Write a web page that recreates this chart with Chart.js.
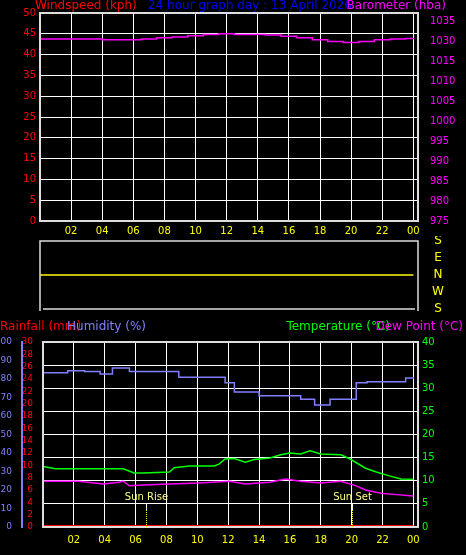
<!DOCTYPE html>
<html><head><meta charset="utf-8">
<script src="https://cdn.jsdelivr.net/npm/chart.js@4"></script>
<style>
html,body{margin:0;padding:0;background:#000;width:466px;height:555px;overflow:hidden;position:relative}
canvas{position:absolute;left:0px}
</style></head><body>
<canvas id="c1" style="top:0px;width:466px;height:240px" width="466" height="240"></canvas>
<canvas id="c2" style="top:236px;width:466px;height:82px" width="466" height="82"></canvas>
<canvas id="c3" style="top:320px;width:466px;height:235px" width="466" height="235"></canvas>
<script>
const baroHours = [0,1,3,4,5,6,6.5,7.5,8.5,9.5,10.5,11.5,12.5,13.5,14.5,15.5,16.5,17.5,18.5,19.5,20.5,21.5,22.5,23.5,24];
const baroValues = [1020.5,1020.5,1020.5,1020.3,1020.3,1020.3,1020.5,1020.8,1021.0,1021.3,1021.6,1021.8,1021.6,1021.6,1021.5,1021.2,1020.8,1020.3,1019.9,1019.6,1019.9,1020.3,1020.5,1020.6,1020.8];
const windHours = [0,24];
const windValues = [0,0];
const baroTickLabels = {975:'975',980:'980',985:'985',990:'990',995:'995',1000:'1000',1005:'1005',1010:'1010',1015:'1015',1020:'1030',1025:'1035'};
const hourTicks = [2,4,6,8,10,12,14,16,18,20,22,24];
const dirHours = [0,24];
const dirValues = [0,0];
const dirLabels = ['S','E','N','W','S'];
const humHours = [0,1.5,1.6,2.6,2.7,3.6,3.7,4.4,4.5,5.2,5.6,6.5,8.6,8.8,11.4,11.8,12.4,14,16.7,17.6,18.6,20.3,21,22.5,23.5,24];
const humValues = [83.4,83.4,84.5,84.5,84,84,82.7,82.7,86,86,84,84,84,81,81,78,73,71,69,66,69,78,78.5,78.5,80.5,81];
const tempHours = [0,0.8,5.2,5.9,6.5,8.2,8.5,9.5,11.1,11.4,11.8,12.4,13.1,13.7,14.7,15.4,16,16.7,17.3,18,19.3,19.9,20.9,21.6,22.5,23.2,24];
const tempValues = [13.1,12.6,12.6,11.7,11.7,11.9,12.8,13.2,13.2,13.6,14.7,14.8,14.0,14.6,14.9,15.6,16,15.8,16.5,15.8,15.6,14.7,12.7,11.9,11,10.4,10.3];
const dewHours = [0,2.3,2.9,3.9,4.9,5.2,5.6,6.5,8.2,10.1,12.1,13.1,14.7,15.7,16.7,18,19.3,20.3,20.9,21.9,22.9,24];
const dewValues = [9.9,9.9,9.7,9.3,9.7,9.9,8.9,9.1,9.3,9.5,9.9,9.3,9.7,10.4,9.9,9.5,9.9,8.9,8.0,7.3,7.0,6.7];
const rainHours = [0,24];
const rainValues = [0,0];
const sunEvents = [{h:6.7,t:'Sun Rise'},{h:20.0,t:'Sun Set'}];

Chart.defaults.animation=false;
Chart.defaults.font={family:'DejaVu Sans', size:10};
Chart.defaults.devicePixelRatio=1;
const pts = (xs,ys)=>xs.map((x,i)=>({x, y:ys[i]}));
const hourLabel = v => String(v%24).padStart(2,'0');
const dotGrid = {color:'#fff', borderDash:[1,3], lineWidth:1, drawTicks:false};
const fixW = w => s => { s.width = w; };
const fixH = h => s => { s.height = h; };
const hourAxis = h => ({type:'linear',min:0,max:24.3,afterFit:fixH(h),grid:dotGrid,border:{display:false},
  afterBuildTicks:s=>{s.ticks=hourTicks.map(v=>({value:v}));},
  ticks:{autoSkip:false,color:'#ffff00',callback:hourLabel,maxRotation:0,padding:h>20?7:4}});

function texts(items){
  return {id:'texts', afterDraw(c){const ctx=c.ctx; ctx.save(); ctx.font='12px "DejaVu Sans"'; ctx.textBaseline='middle';
    items.forEach(it=>{ctx.fillStyle=it.c; ctx.textAlign=it.a; ctx.fillText(it.t,it.x,it.y);}); ctx.restore();}};
}
function frame(){
  return {id:'frame', afterDatasetsDraw(c){const a=c.chartArea,ctx=c.ctx; ctx.save(); ctx.strokeStyle='#ddd'; ctx.lineWidth=2;
    ctx.strokeRect(a.left,a.top,a.right-a.left,a.bottom-a.top); ctx.restore();}};
}

new Chart(document.getElementById('c1'),{
  type:'line',
  data:{datasets:[
    {data:pts(baroHours,baroValues), yAxisID:'baro', borderColor:'#ff00ff', borderWidth:1.5, pointRadius:0, stepped:true},
    {data:pts(windHours,windValues), yAxisID:'wind', borderColor:'#ff0000', borderWidth:1.5, pointRadius:0}
  ]},
  options:{responsive:false, layout:{padding:{top:13,left:0,right:0,bottom:0}},
    plugins:{legend:{display:false},tooltip:{enabled:false}},
    scales:{
      x:hourAxis(19),
      wind:{position:'left',min:0,max:50,afterFit:fixW(40),grid:dotGrid,border:{color:'#ff0000'},
        ticks:{stepSize:5,color:'#ff0000',padding:4}},
      baro:{position:'right',min:975,max:1027,afterFit:fixW(48),grid:{display:false},border:{color:'#ff00ff'},
        afterBuildTicks:s=>{s.ticks=Object.keys(baroTickLabels).map(v=>({value:+v}));},
        ticks:{autoSkip:false,color:'#ff00ff',padding:4,callback:v=>baroTickLabels[v]}}
    }},
  plugins:[frame(),texts([
    {t:'Windspeed (kph)',x:35,y:6,c:'#ff0000',a:'left'},
    {t:'24 hour graph day : 13 April 2026',x:250,y:6,c:'#0000ff',a:'center'},
    {t:'Barometer (hba)',x:446,y:6,c:'#ff00ff',a:'right'}])]
});

new Chart(document.getElementById('c2'),{
  type:'line',
  data:{datasets:[{data:pts(dirHours,dirValues), borderColor:'#ffff00', borderWidth:1.5, pointRadius:0}]},
  options:{responsive:false, layout:{padding:{top:5,left:40,right:48,bottom:9}},
    plugins:{legend:{display:false},tooltip:{enabled:false}},
    scales:{x:{type:'linear',min:0,max:24.3,display:false},
      y:{min:-180,max:180,display:false}}},
  plugins:[{id:'box',afterDraw(c){const a=c.chartArea,ctx=c.ctx; ctx.save(); ctx.strokeStyle='#ddd'; ctx.lineWidth=1.5;
    ctx.beginPath(); ctx.moveTo(a.left,a.bottom+2); ctx.lineTo(a.left,a.top); ctx.lineTo(a.right,a.top); ctx.lineTo(a.right,a.bottom+2);
    ctx.moveTo(a.left+3,a.bottom); ctx.lineTo(a.right-3,a.bottom); ctx.stroke();
    ctx.font='12px "DejaVu Sans"'; ctx.fillStyle='#ffff00'; ctx.textAlign='center'; ctx.textBaseline='middle';
    const y=c.scales.y; dirLabels.forEach((l,i)=>ctx.fillText(l,438,y.getPixelForValue(180-90*i)));
    ctx.restore();}}]
});

new Chart(document.getElementById('c3'),{
  type:'line',
  data:{datasets:[
    {data:pts(humHours,humValues), yAxisID:'hum', borderColor:'#8080ff', borderWidth:1.5, pointRadius:0, stepped:true},
    {data:pts(tempHours,tempValues), yAxisID:'temp', borderColor:'#00ff00', borderWidth:1.5, pointRadius:0},
    {data:pts(dewHours,dewValues), yAxisID:'temp', borderColor:'#ff00ff', borderWidth:1.5, pointRadius:0},
    {data:pts(rainHours,rainValues), yAxisID:'rain', borderColor:'#ff0000', borderWidth:4, pointRadius:0}
  ]},
  options:{responsive:false, layout:{padding:{top:22,left:0,right:0,bottom:0}},
    plugins:{legend:{display:false},tooltip:{enabled:false}},
    scales:{
      x:hourAxis(28),
      rain:{position:'left',weight:0,min:0,max:30,afterFit:fixW(21),grid:{display:false},border:{color:'#ff0000'},
        ticks:{stepSize:2,autoSkip:false,color:'#ff0000',padding:2,font:{size:9}}},
      hum:{position:'left',weight:1,min:0,max:100,afterFit:fixW(22),grid:{display:false},border:{color:'#8080ff',width:2},
        ticks:{stepSize:10,autoSkip:false,color:'#8080ff',padding:2,font:{size:9}}},
      temp:{position:'right',min:0,max:40,afterFit:fixW(48),grid:dotGrid,border:{color:'#00ff00'},
        ticks:{stepSize:5,color:'#00ff00',padding:4}}
    }},
  plugins:[frame(),texts([
    {t:'Rainfall (mm)',x:0,y:7,c:'#ff0000',a:'left'},
    {t:'Humidity (%)',x:67,y:7,c:'#8080ff',a:'left'},
    {t:'Temperature (°C)',x:390,y:7,c:'#00ff00',a:'right'},
    {t:'Dew Point (°C)',x:463,y:7,c:'#ff00ff',a:'right'}]),
    {id:'sun',afterDatasetsDraw(c){const ctx=c.ctx,x=c.scales.x,a=c.chartArea; ctx.save();
      ctx.font='10px "DejaVu Sans"'; ctx.textAlign='center'; ctx.textBaseline='middle';
      sunEvents.forEach(e=>{const px=Math.round(x.getPixelForValue(e.h))+0.5;
        ctx.fillStyle='#ffff88'; ctx.fillText(e.t,px,a.bottom-30);
        ctx.strokeStyle='#fff'; ctx.lineWidth=1; ctx.beginPath(); ctx.moveTo(px,a.bottom-23); ctx.lineTo(px,a.bottom-17); ctx.stroke();
        ctx.strokeStyle='#ffff00'; ctx.setLineDash([1,1]); ctx.beginPath(); ctx.moveTo(px,a.bottom-17); ctx.lineTo(px,a.bottom); ctx.stroke(); ctx.setLineDash([]);});
      ctx.restore();}}]
});
</script></body></html>
